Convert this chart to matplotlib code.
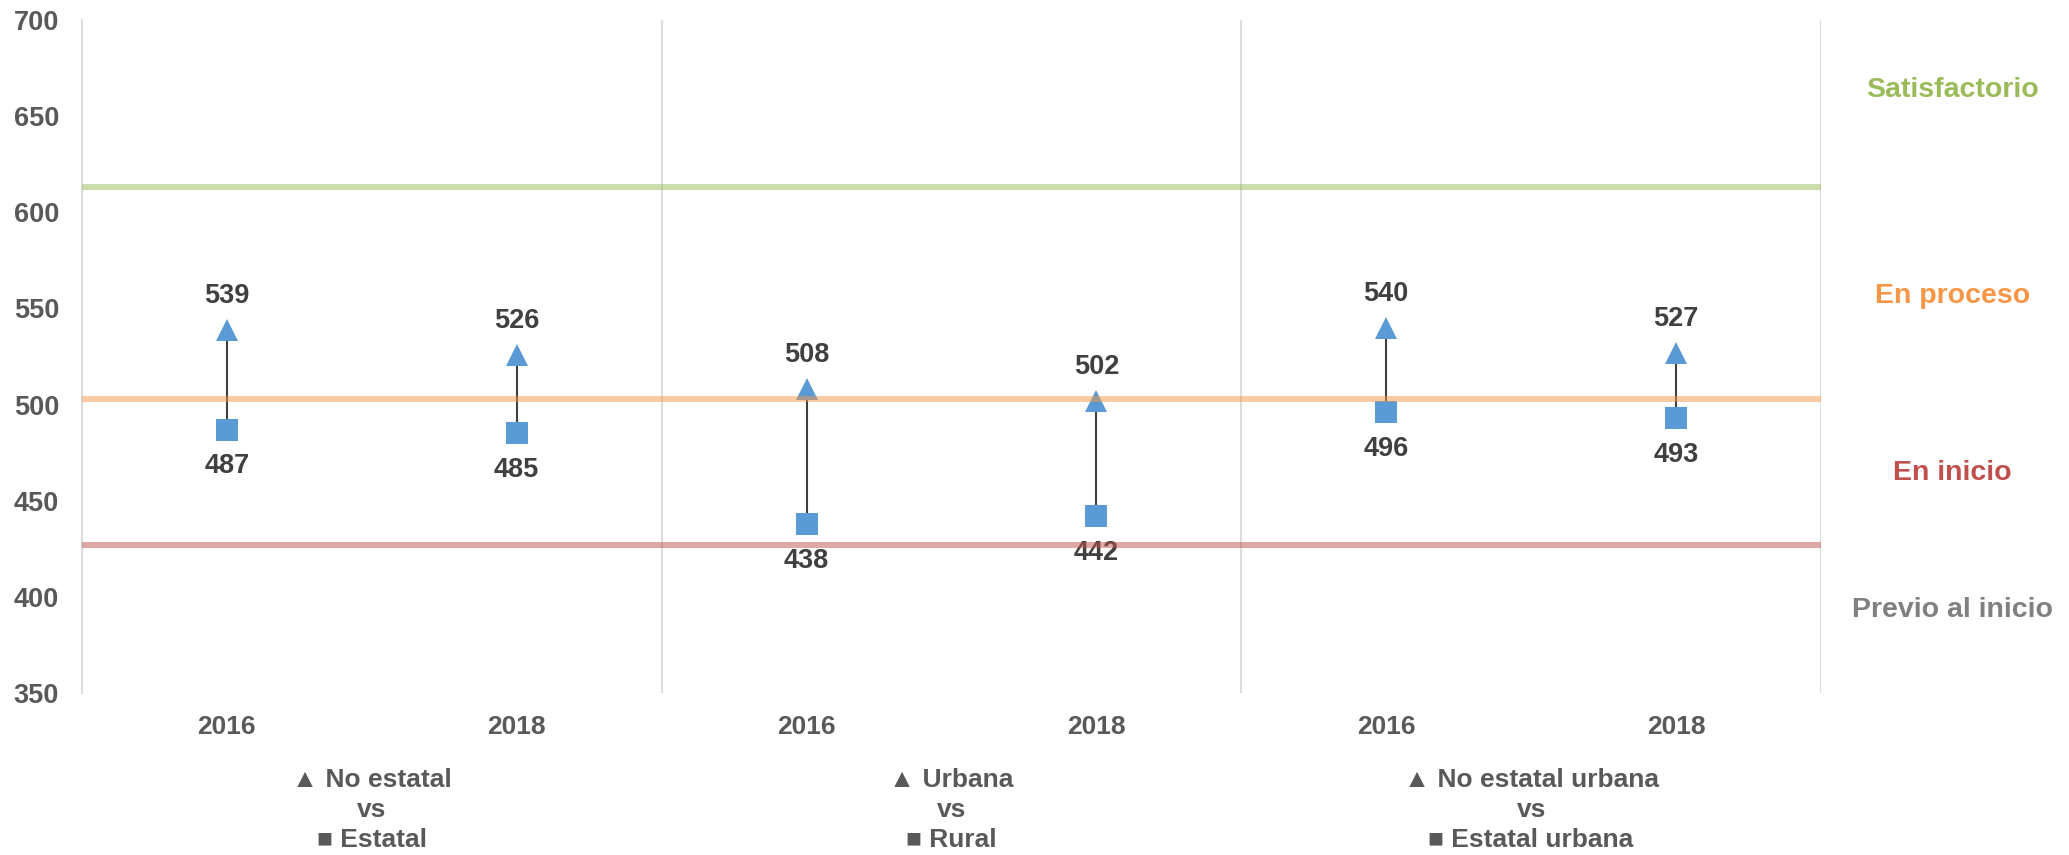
import matplotlib
matplotlib.use("Agg")
import matplotlib.pyplot as plt
import matplotlib.transforms as mtransforms

plt.rcParams['font.family'] = ['Liberation Sans', 'DejaVu Sans']
plt.rcParams['font.weight'] = 'bold'

# ---- data ----
years = ['2016', '2018', '2016', '2018', '2016', '2018']
top_values = [539, 526, 508, 502, 540, 527]        # triangle series
bottom_values = [487, 485, 438, 442, 496, 493]     # square series
group_labels = ["▲ No estatal\nvs\n■ Estatal",
                "▲ Urbana\nvs\n■ Rural",
                "▲ No estatal urbana\nvs\n■ Estatal urbana"]
level_thresholds = [613, 503, 427]
level_line_colors = ['#9BBB59', '#F79646', '#C0504D']
level_names = ['Satisfactorio', 'En proceso', 'En inicio', 'Previo al inicio']
level_label_y = [663.5, 556.5, 464.5, 393]
level_text_colors = ['#9BBB59', '#F79646', '#C0504D', '#808080']
yticks = [350, 400, 450, 500, 550, 600, 650, 700]

fig = plt.figure(figsize=(20.69, 8.55), dpi=100)
ax = fig.add_axes([0.0396, 0.1895, 0.8405, 0.787])

x = list(range(len(years)))
blue = '#5B9BD5'

# connectors
for xi, lo, hi in zip(x, bottom_values, top_values):
    ax.plot([xi, xi], [lo, hi], color='#404040', lw=1.5, zorder=2)

ax.plot(x, top_values, linestyle='none', marker='^', ms=16,
        color=blue, markeredgewidth=0, zorder=3)
ax.plot(x, bottom_values, linestyle='none', marker='s', ms=15.5,
        color=blue, markeredgewidth=0, zorder=3)

# level lines (semi-transparent, on top)
for yv, c in zip(level_thresholds, level_line_colors):
    ax.axhline(yv, color=c, lw=4.3, alpha=0.5, zorder=4)

# data labels
for xi, v in zip(x, top_values):
    ax.annotate(str(v), (xi, v), xytext=(0, 24.5), textcoords='offset points',
                ha='center', va='center', fontsize=19.5, color='#404040',
                fontweight='bold')
for xi, v in zip(x, bottom_values):
    ax.annotate(str(v), (xi, v), xytext=(0, -26.5), textcoords='offset points',
                ha='center', va='center', fontsize=19.5, color='#404040',
                fontweight='bold')

# separators
ax.set_xlim(-0.5, 5.5)
ax.set_ylim(350, 700)
for xv in [1.5, 3.5, 5.5]:
    ax.axvline(xv, color='#DDDDDD', lw=1.5, zorder=1)

for s in ['top', 'right', 'bottom']:
    ax.spines[s].set_visible(False)
ax.spines['left'].set_color('#DDDDDD')
ax.spines['left'].set_linewidth(1.5)

ax.set_yticks(yticks)
ax.set_yticklabels([str(t) for t in yticks])
ax.set_xticks(x)
ax.set_xticklabels(years)
ax.tick_params(axis='y', length=0, pad=16.5, labelsize=19.5, labelcolor='#595959')
ax.tick_params(axis='x', length=0, pad=16, labelsize=19, labelcolor='#595959')
for lab in ax.get_xticklabels() + ax.get_yticklabels():
    lab.set_fontweight('bold')

# group labels
trans = mtransforms.blended_transform_factory(ax.transData, fig.transFigure)
for gi, g in enumerate(group_labels):
    ax.text(2 * gi + 0.5, 0.0526, g, transform=trans, ha='center', va='center',
            fontsize=19, color='#595959', fontweight='bold', linespacing=1.3,
            multialignment='center')

# level names on the right
for name, yv, c in zip(level_names, level_label_y, level_text_colors):
    ax.text(5.953, yv, name, ha='center', va='center', fontsize=20.5,
            color=c, fontweight='bold', clip_on=False)

fig.savefig('out.png', dpi=100)
